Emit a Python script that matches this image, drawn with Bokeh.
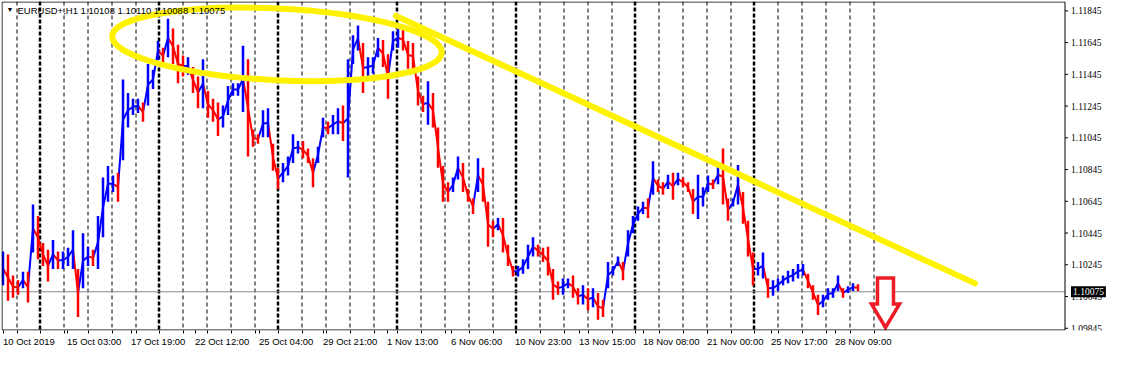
from bokeh.plotting import figure
from bokeh.models import (Range1d, LinearAxis, FixedTicker, Span, Label, ColumnDataSource)
from bokeh.embed import file_html
from bokeh.resources import INLINE

# ---------------- data ----------------
STEP_HOURS = 5  # one sampled bar every 5 hourly bars
bar_high = [
    1.10328, 1.10310, 1.10177, 1.10147, 1.10201, 1.10201, 1.10625, 1.10553, 1.10383, 1.10340,
    1.10401, 1.10328, 1.10328, 1.10353, 1.10462, 1.10219, 1.10443, 1.10359, 1.10340, 1.10553,
    1.10795, 1.10868, 1.10807, 1.10825, 1.11413, 1.11328, 1.11292, 1.11292, 1.11268, 1.11510,
    1.11474, 1.11655, 1.11613, 1.11795, 1.11734, 1.11631, 1.11564, 1.11552, 1.11492, 1.11431,
    1.11540, 1.11340, 1.11292, 1.11268, 1.11249, 1.11371, 1.11389, 1.11389, 1.11625, 1.11540,
    1.11098, 1.11068, 1.11219, 1.11231, 1.11007, 1.10856, 1.10886, 1.10928, 1.11068, 1.11025,
    1.11025, 1.10977, 1.10916, 1.10989, 1.11171, 1.11146, 1.11189, 1.11231, 1.11249, 1.11540,
    1.11692, 1.11752, 1.11643, 1.11552, 1.11552, 1.11674, 1.11661, 1.11571, 1.11716, 1.11734,
    1.11734, 1.11655, 1.11643, 1.11431, 1.11310, 1.11401, 1.11328, 1.11110, 1.10868, 1.10765,
    1.10795, 1.10928, 1.10886, 1.10722, 1.10662, 1.10916, 1.10856, 1.10643, 1.10522, 1.10540,
    1.10540, 1.10371, 1.10237, 1.10237, 1.10280, 1.10371, 1.10419, 1.10371, 1.10353, 1.10359,
    1.10219, 1.10140, 1.10159, 1.10159, 1.10177, 1.10098, 1.10116, 1.10098, 1.10098, 1.10068,
    1.10025, 1.10262, 1.10237, 1.10298, 1.10262, 1.10462, 1.10553, 1.10613, 1.10643, 1.10662,
    1.10898, 1.10783, 1.10765, 1.10813, 1.10825, 1.10825, 1.10795, 1.10765, 1.10722, 1.10813,
    1.10734, 1.10807, 1.10783, 1.10868, 1.10977, 1.10662, 1.10662, 1.10874, 1.10704, 1.10522,
    1.10322, 1.10262, 1.10322, 1.10159, 1.10147, 1.10159, 1.10177, 1.10207, 1.10219, 1.10250,
    1.10250, 1.10189, 1.10116, 1.10056, 1.10056, 1.10098, 1.10098, 1.10177, 1.10098, 1.10110,
    1.10128, 1.10122]
bar_low = [
    1.10116, 1.10019, 1.10037, 1.10056, 1.10098, 1.10007, 1.10322, 1.10280, 1.10237, 1.10140,
    1.10219, 1.10219, 1.10219, 1.10237, 1.10219, 1.09916, 1.10098, 1.10237, 1.10237, 1.10219,
    1.10419, 1.10643, 1.10704, 1.10643, 1.10904, 1.11110, 1.11189, 1.11201, 1.11146, 1.11249,
    1.11352, 1.11534, 1.11510, 1.11552, 1.11510, 1.11389, 1.11431, 1.11443, 1.11328, 1.11231,
    1.11231, 1.11171, 1.11146, 1.11056, 1.11110, 1.11189, 1.11310, 1.11310, 1.11207, 1.10928,
    1.10989, 1.11007, 1.11049, 1.11049, 1.10837, 1.10722, 1.10765, 1.10807, 1.10886, 1.10946,
    1.10916, 1.10886, 1.10734, 1.10886, 1.11049, 1.11068, 1.11068, 1.11068, 1.11025, 1.10795,
    1.11510, 1.11595, 1.11328, 1.11431, 1.11449, 1.11552, 1.11492, 1.11292, 1.11595, 1.11613,
    1.11595, 1.11480, 1.11474, 1.11249, 1.11207, 1.11128, 1.11110, 1.10856, 1.10643, 1.10643,
    1.10704, 1.10783, 1.10704, 1.10643, 1.10565, 1.10704, 1.10643, 1.10359, 1.10419, 1.10462,
    1.10322, 1.10237, 1.10171, 1.10171, 1.10189, 1.10219, 1.10298, 1.10298, 1.10262, 1.10177,
    1.10025, 1.10056, 1.10056, 1.10098, 1.10037, 1.09995, 1.09995, 1.09959, 1.09977, 1.09898,
    1.09916, 1.10098, 1.10177, 1.10237, 1.10147, 1.10298, 1.10443, 1.10522, 1.10565, 1.10540,
    1.10686, 1.10704, 1.10686, 1.10722, 1.10655, 1.10746, 1.10734, 1.10704, 1.10565, 1.10534,
    1.10613, 1.10704, 1.10722, 1.10753, 1.10625, 1.10522, 1.10613, 1.10625, 1.10504, 1.10298,
    1.10116, 1.10177, 1.10159, 1.10037, 1.10050, 1.10080, 1.10116, 1.10128, 1.10140, 1.10159,
    1.10177, 1.10098, 1.10025, 1.09928, 1.09977, 1.10025, 1.10037, 1.10080, 1.10037, 1.10068,
    1.10080, 1.10080]

# hour index of day / week separators
day_separators = [14, 61, 85, 109, 133, 180, 204, 228, 252, 299, 323, 347, 371, 418, 442,
                  466, 490, 537, 561, 585, 609, 656, 680, 704, 728, 775, 799, 823, 847, 871]
week_separators = [37, 156, 275, 394, 513, 632, 751]

# time-axis labels (hour index where each label starts)
time_label_hours = [0, 64, 128, 192, 256, 320, 384, 448, 512, 576, 640, 704, 768, 832]
time_labels = ["10 Oct 2019", "15 Oct 03:00", "17 Oct 19:00", "22 Oct 12:00", "25 Oct 04:00",
               "29 Oct 21:00", "1 Nov 13:00", "6 Nov 06:00", "10 Nov 23:00", "13 Nov 15:00",
               "18 Nov 08:00", "21 Nov 00:00", "25 Nov 17:00", "28 Nov 09:00"]

price_ticks = [1.09845, 1.10045, 1.10245, 1.10445, 1.10645, 1.10845,
               1.11045, 1.11245, 1.11445, 1.11645, 1.11845]
price_tick_labels = ["%.5f" % v for v in price_ticks]
last_price = 1.10075
header_text = "EURUSD+,H1  1.10108 1.10110 1.10088 1.10075"

# hand-drawn annotations (hour index, price)
trend_line_hours = [393, 972]
trend_line_prices = [1.11813, 1.10128]
ellipse_center = (274, 1.11634)
ellipse_size = (330, 0.00452)   # hours, price
arrow_hours = [874.5, 890.5, 890.5, 896.5, 882.5, 868.5, 874.5]
arrow_prices = [1.10162, 1.10162, 1.09998, 1.09998, 1.09850, 1.09998, 1.09998]

# ---------------- figure ----------------
W, H = 1106, 349
X0, XEND = -1.5, 1103.5          # frame covers chart + price scale, 1 px per hour
CHART_END = 1062                 # right edge of the chart area (hours)
Y0, Y1 = 1.09831, 1.11904
FONT = "Liberation Sans"
FS = "9.5px"
FRAME_H = 330.0
PPX = (Y1 - Y0) / FRAME_H        # price per pixel (approx.)

p = figure(width=W, height=H, x_range=Range1d(X0, XEND), y_range=Range1d(Y0, Y1),
           output_backend="svg", toolbar_location=None,
           x_axis_location=None, y_axis_location=None)
p.min_border_left = 1
p.min_border_top = 1
p.min_border_right = 0
p.min_border_bottom = 0
p.outline_line_color = None
p.background_fill_color = "white"
p.border_fill_color = "white"
p.xgrid.visible = False
p.ygrid.visible = False

# separators
for h in day_separators:
    p.add_layout(Span(location=h, dimension="height", line_color="black",
                      line_width=1, line_dash="4 3", level="underlay"))
for h in week_separators:
    p.add_layout(Span(location=h, dimension="height", line_color="black",
                      line_width=2.5, line_dash="4 2", level="underlay"))

# last price line
p.segment(x0=[X0], y0=[last_price], x1=[CHART_END], y1=[last_price],
          line_color="#808894", line_width=1)

# price bars
hours = [i * STEP_HOURS for i in range(len(bar_high))]
mids = [(a + b) / 2 for a, b in zip(bar_high, bar_low)]
colors = ["#0000ff"] + ["#0000ff" if mids[i] >= mids[i - 1] else "#ff0000"
                        for i in range(1, len(mids))]
src = ColumnDataSource(dict(h=hours, hi=bar_high, lo=bar_low, c=colors))
seg = ColumnDataSource(dict(x0=hours[:-1], x1=hours[1:], y0=mids[:-1], y1=mids[1:], c=colors[1:]))
p.segment(x0="x0", y0="y0", x1="x1", y1="y1", line_color="c", line_width=2, source=seg)
p.vbar(x="h", top="hi", bottom="lo", width=2.5, fill_color="c", line_color=None, source=src)

# yellow annotations
YEL = "#fff200"
p.ellipse(x=[ellipse_center[0]], y=[ellipse_center[1]], width=ellipse_size[0],
          height=ellipse_size[1], angle=-0.05, fill_color=None, line_color=YEL, line_width=6)
p.line(trend_line_hours, trend_line_prices, line_color=YEL, line_width=6, line_cap="round")

# red arrow
p.patch(arrow_hours, arrow_prices, fill_color="white", line_color="#ee1c24", line_width=3.5,
        line_join="miter")

# chart border (left, top, right, bottom)
bx0 = X0 + 0.5
by0 = Y0 + 0.5 * PPX
by1 = Y1 - 0.5 * PPX
p.segment(x0=[bx0, bx0, CHART_END, bx0], y0=[by0, by1, by0, by0],
          x1=[bx0, CHART_END, CHART_END, CHART_END], y1=[by1, by1, by1, by0],
          line_color="black", line_width=1)

# price scale (ticks + labels) drawn at the right of the chart
p.segment(x0=[CHART_END] * len(price_ticks), y0=price_ticks,
          x1=[CHART_END + 3] * len(price_ticks), y1=price_ticks, line_color="black", line_width=1)
p.text(x=[CHART_END] * len(price_ticks), y=price_ticks, text=price_tick_labels,
       x_offset=6, text_font=FONT, text_font_size=FS, text_baseline="middle",
       text_align="left", text_color="black")
p.text(x=[CHART_END], y=[last_price], text=["%.5f" % last_price],
       x_offset=6, text_font=FONT, text_font_size=FS, text_baseline="middle",
       text_align="left", text_color="white", background_fill_color="black", padding=2)

# time axis
CW = {" ": 278, ":": 278, "O": 778, "c": 500, "t": 278, "N": 722, "o": 556, "v": 500}
def text_w(s, size=9.5):
    return sum(CW.get(ch, 556) for ch in s) / 1000 * size

centers = [round(h + text_w(t) / 2, 2) for h, t in zip(time_label_hours, time_labels)]
xaxis = LinearAxis(ticker=FixedTicker(ticks=centers,
                                      minor_ticks=sorted(day_separators + week_separators + time_label_hours)),
                   major_label_overrides={c: t for c, t in zip(centers, time_labels)},
                   major_tick_out=0, major_tick_in=0, minor_tick_out=3, minor_tick_in=0,
                   major_label_standoff=2, axis_line_color=None,
                   major_label_text_font=FONT, major_label_text_font_size=FS,
                   major_label_text_color="black")
p.add_layout(xaxis, "below")

# header text
p.add_layout(Label(x=X0, y=Y1, x_offset=5, y_offset=-4, text="\u25bc", text_font=FONT,
                   text_font_size="7px", text_baseline="top", text_color="black"))
p.add_layout(Label(x=X0, y=Y1, x_offset=16, y_offset=-3, text=header_text, text_font=FONT,
                   text_font_size=FS, text_baseline="top", text_color="black"))

open("out.html", "w").write(file_html(p, INLINE))
